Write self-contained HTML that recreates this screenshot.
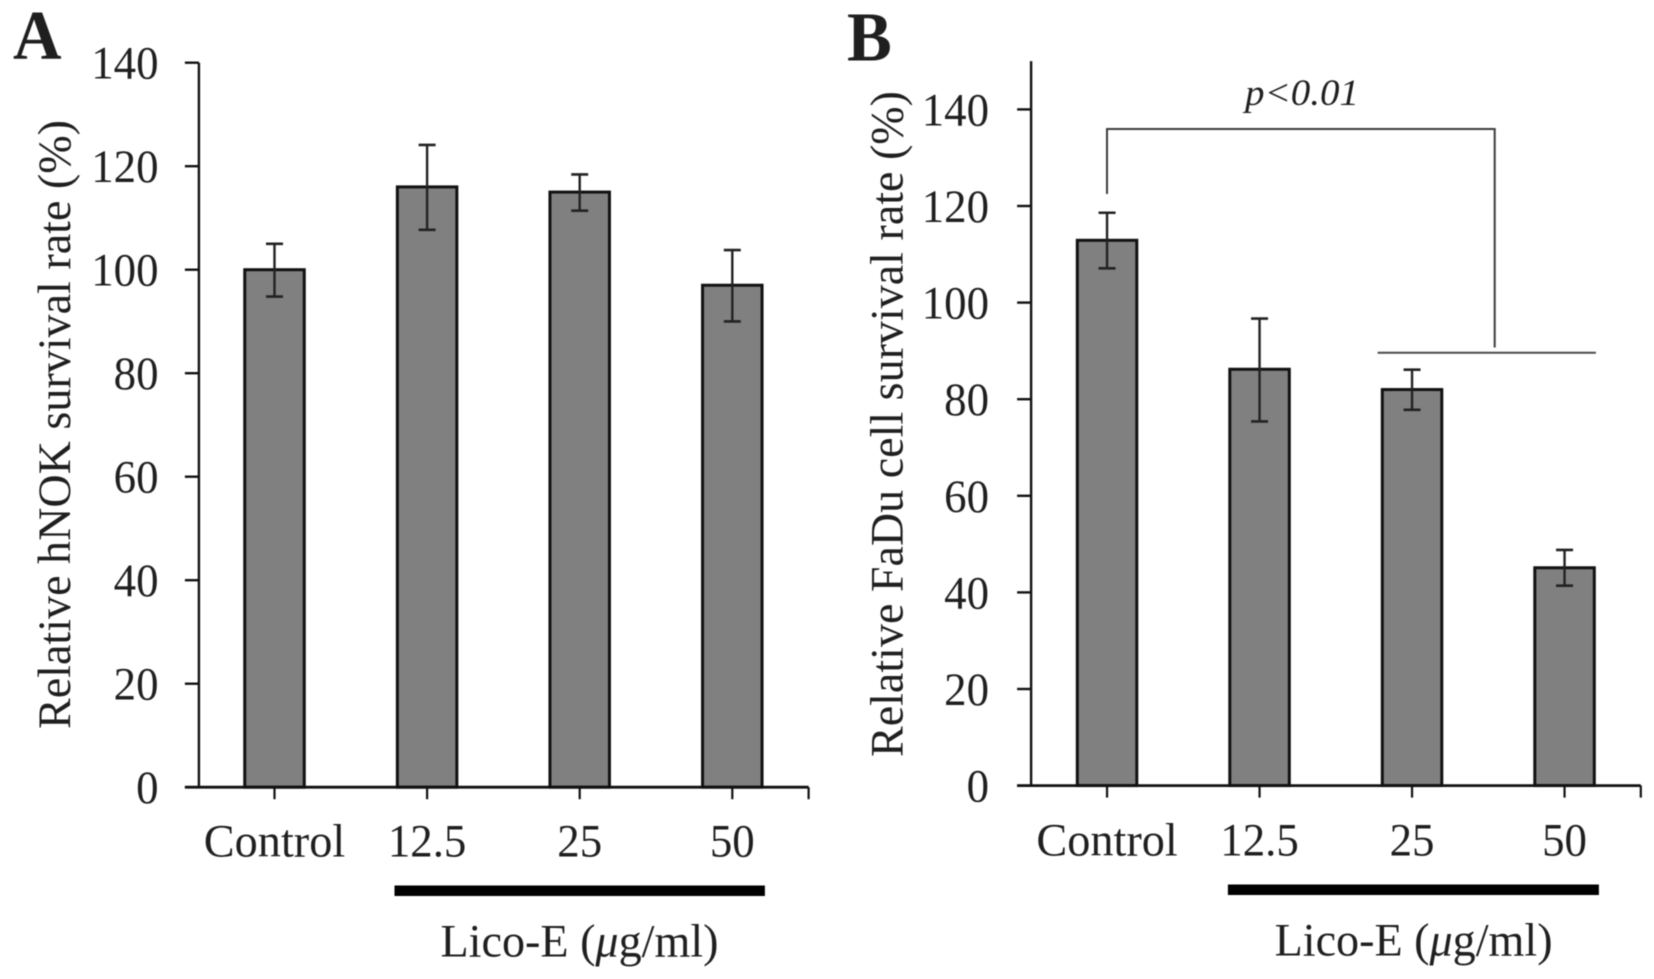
<!DOCTYPE html>
<html lang="en">
<head>
<meta charset="utf-8">
<title>Relative survival rate charts</title>
<style>
  html, body { margin: 0; padding: 0; background: #ffffff; }
  #figure { display: block; width: 1654px; height: 979px; filter: blur(0.5px); }
  text { font-family: "Liberation Serif", serif; fill: #1f1f1f; }
</style>
</head>
<body>
<svg id="figure" xmlns="http://www.w3.org/2000/svg" width="1654" height="979" viewBox="0 0 1654 979"></svg>
<script>
// Shared categories and tick labels
const categories = ["Control", "12.5", "25", "50"];
const tickValuesA = [0, 20, 40, 60, 80, 100, 120, 140];
const tickValuesB = [0, 20, 40, 60, 80, 100, 120, 140];

// Panel A: hNOK
const valuesA = [100, 116, 115, 97];
const errorHighA = [105, 124.1, 118.4, 103.8];
const errorLowA = [94.8, 107.7, 111.4, 90];

// Panel B: FaDu
const valuesB = [112.9, 86.2, 82, 45.1];
const errorHighB = [118.6, 96.7, 86.1, 48.8];
const errorLowB = [107.1, 75.4, 77.8, 41.4];

const NS = "http://www.w3.org/2000/svg";
const svg = document.getElementById("figure");

function make(tag, attrs, parent) {
  const el = document.createElementNS(NS, tag);
  for (const key in attrs) el.setAttribute(key, attrs[key]);
  (parent || svg).appendChild(el);
  return el;
}

function line(x1, y1, x2, y2, stroke, width, parent) {
  return make("line", { x1: x1, y1: y1, x2: x2, y2: y2, stroke: stroke, "stroke-width": width }, parent);
}

function label(str, x, y, size, anchor, sx, parent) {
  const t = make("text", {
    transform: "translate(" + x + " " + y + ") scale(" + sx + " 1)",
    "font-size": size,
    "text-anchor": anchor
  }, parent);
  t.textContent = str;
  return t;
}

function drawPanel(cfg) {
  const g = make("g", {});
  
  

  const yScale = function (v) { return cfg.yZero - v * cfg.yUnit; };
  const xScale = function (i) { return cfg.xStart + (i + 0.5) * cfg.band; };
  const xEnd = cfg.xStart + categories.length * cfg.band;

  // Panel letter
  const letter = label(cfg.letter, cfg.letterX, cfg.letterY, 70, "start", 0.96, g);
  letter.setAttribute("font-weight", "bold");
  letter.setAttribute("fill", "#111");
  
  

  // Bars
  cfg.values.forEach(function (v, i) {
    const bar = make("rect", {
      x: xScale(i) - cfg.barWidth / 2,
      y: yScale(v),
      width: cfg.barWidth,
      height: yScale(0) - yScale(v),
      fill: "#808080",
      stroke: "#111111",
      "stroke-width": 3
    }, g);
    
    
  });

  // Error bars
  cfg.values.forEach(function (v, i) {
    const x = xScale(i);
    const top = yScale(cfg.errHigh[i]);
    const bottom = yScale(cfg.errLow[i]);
    const stem = line(x, top, x, bottom, "#222222", 2.4, g);
    
    
    const capTop = line(x - 8.5, top, x + 8.5, top, "#222222", 2.6, g);
    
    
    const capBottom = line(x - 8.5, bottom, x + 8.5, bottom, "#222222", 2.6, g);
    
    
  });

  // Y axis
  const yAxis = line(cfg.axisX, yScale(cfg.yMax), cfg.axisX, yScale(0) + 1, "#111111", 2.4, g);
  
  
  cfg.ticks.forEach(function (t) {
    const tick = line(cfg.axisX - 14, yScale(t), cfg.axisX, yScale(t), "#111111", 2.4, g);
    
    
    const tl = label(String(t), cfg.tickLabelX, yScale(t) + 16, 47, "end", 0.955, g);
    
    
  });

  // X axis
  const xAxis = line(cfg.axisX - 14, yScale(0), xEnd, yScale(0), "#111111", 2.8, g);
  
  
  categories.forEach(function (c, i) {
    const x = xScale(i);
    const tick = line(x, yScale(0), x, yScale(0) + 12, "#111111", 2.2, g);
    
    
    const cl = label(c, x, cfg.catBaseline, 47, "middle", i === 0 ? 0.985 : 0.955, g);
    
    
  });
  const endTick = line(xEnd, yScale(0), xEnd, yScale(0) + 12, "#111111", 2.2, g);
  
  

  // Y title
  const title = make("text", {
    transform: "translate(" + cfg.titleX + " " + cfg.titleBottom + ") rotate(-90)",
    "font-size": 47,
    textLength: cfg.titleLength,
    lengthAdjust: "spacingAndGlyphs"
  }, g);
  title.textContent = cfg.title;
  
  

  // Dose bar
  const dose = make("rect", {
    x: cfg.doseX,
    y: cfg.doseY,
    width: cfg.doseW,
    height: 10.5,
    fill: "#000"
  }, g);
  
  

  // Dose label
  const doseLabel = make("text", {
    x: cfg.doseLabelX,
    y: cfg.doseLabelY,
    "font-size": 47,
    textLength: 278,
    lengthAdjust: "spacingAndGlyphs"
  }, g);
  
  
  doseLabel.appendChild(document.createTextNode("Lico-E ("));
  const mu = make("tspan", { "font-style": "italic" }, doseLabel);
  mu.textContent = "\u03BC";
  doseLabel.appendChild(document.createTextNode("g/ml)"));

  return { g: g, xScale: xScale, yScale: yScale };
}

drawPanel({
  id: "panel-a", letter: "A", letterX: 13, letterY: 59,
  values: valuesA, errHigh: errorHighA, errLow: errorLowA, ticks: tickValuesA,
  xStart: 198.2, band: 152.6, barWidth: 59.5,
  yZero: 787.2, yUnit: 5.175, yMax: 140,
  axisX: 198.9, tickLabelX: 158.5, catBaseline: 856.5,
  title: "Relative hNOK survival rate (%)", titleX: 70, titleBottom: 729, titleLength: 609,
  doseX: 394.5, doseY: 885.5, doseW: 370.4, doseLabelX: 440.5, doseLabelY: 956.5
});

drawPanel({
  id: "panel-b", letter: "B", letterX: 847, letterY: 60.5,
  values: valuesB, errHigh: errorHighB, errLow: errorLowB, ticks: tickValuesB,
  xStart: 1030.8, band: 152.5, barWidth: 59.5,
  yZero: 785.6, yUnit: 4.83, yMax: 150,
  axisX: 1031.1, tickLabelX: 989, catBaseline: 855.5,
  title: "Relative FaDu cell survival rate (%)", titleX: 902.5, titleBottom: 757, titleLength: 666,
  doseX: 1227.9, doseY: 884.5, doseW: 371, doseLabelX: 1274.6, doseLabelY: 955.5
});

// Significance bracket
const bracketGroup = make("g", {});



const bracket = make("path", {
  d: "M1107 194 V129 H1494.7 V347.5",
  fill: "none",
  stroke: "#3c3c3c",
  "stroke-width": 2
}, bracketGroup);



const groupLine = line(1377.6, 352.7, 1595.9, 352.7, "#4a4a4a", 2, bracketGroup);



const pText = make("text", {
  x: 1245,
  y: 105,
  "font-size": 37,
  "font-style": "italic",
  textLength: 114,
  lengthAdjust: "spacingAndGlyphs"
}, bracketGroup);
pText.textContent = "p<0.01";


</script>
</body>
</html>
